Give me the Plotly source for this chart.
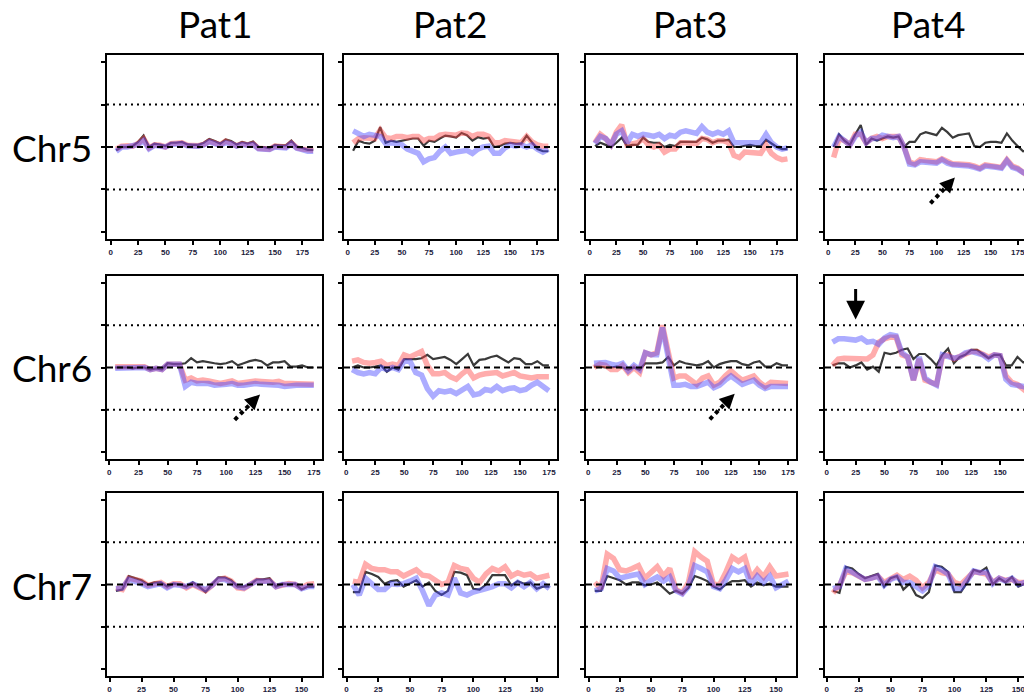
import plotly.graph_objects as go

# ---------------- data ----------------
PATIENTS = ["Pat1", "Pat2", "Pat3", "Pat4"]
CHROMS = ["Chr5", "Chr6", "Chr7"]
X_TICKS = [0, 25, 50, 75, 100, 125, 150, 175]
Y_TICKS = [-2, -1, 0, 1, 2]

X_CHR5 = [5, 10, 15, 20, 25, 30, 35, 40, 45, 50, 55, 60, 65, 70, 75, 80, 85, 90, 95,
          100, 105, 110, 115, 120, 125, 130, 135, 140, 145, 150, 155, 160, 165, 170,
          175, 180, 185]
X_CHR6 = [5, 10, 15, 20, 25, 30, 35, 40, 45, 50, 55, 60, 65, 70, 75, 80, 85, 90, 95,
          100, 105, 110, 115, 120, 125, 130, 135, 140, 145, 150, 155, 160, 165, 170, 175]
X_CHR7 = [5, 10, 15, 20, 25, 30, 35, 40, 45, 50, 55, 60, 65, 70, 75, 80, 85, 90, 95,
          100, 105, 110, 115, 120, 125, 130, 135, 140, 145, 150, 155, 160]

# Chr5
CHR5_PAT1_REF = [-0.08, 0.0, 0.0, 0.02, 0.12, 0.27, 0.0, 0.08, 0.06, 0.02, 0.1, 0.1, 0.12, 0.06, 0.05, 0.05, 0.1, 0.19, 0.14, 0.08, 0.18, 0.14, 0.06, 0.12, 0.08, 0.13, 0.0, 0.0, -0.03, 0.05, 0.04, 0.04, 0.15, 0.0, -0.02, -0.07, -0.07]
CHR5_PAT1_RED = [-0.05, 0.02, 0.03, 0.02, 0.08, 0.2, -0.02, 0.05, 0.04, 0.0, 0.08, 0.08, 0.1, 0.04, 0.02, 0.03, 0.06, 0.14, 0.1, 0.05, 0.14, 0.1, 0.03, 0.08, 0.05, 0.08, -0.03, -0.04, -0.05, 0.02, 0.0, 0.0, 0.1, -0.02, -0.05, -0.08, -0.08]
CHR5_PAT1_BLUE = [-0.1, 0.0, 0.0, 0.02, 0.06, 0.15, -0.04, 0.04, 0.03, 0.0, 0.06, 0.06, 0.08, 0.03, 0.02, 0.02, 0.05, 0.12, 0.08, 0.04, 0.1, 0.08, 0.02, 0.06, 0.04, 0.06, -0.04, -0.05, -0.06, 0.0, -0.02, -0.02, 0.08, -0.03, -0.06, -0.1, -0.1]

CHR5_PAT2_REF = [-0.09, 0.15, 0.1, 0.08, 0.15, 0.47, 0.1, 0.15, 0.12, 0.15, 0.18, 0.2, 0.2, 0.03, 0.15, 0.12, 0.2, 0.27, 0.25, 0.22, 0.33, 0.28, 0.15, 0.23, 0.2, 0.22, 0.0, 0.02, 0.08, 0.1, 0.08, 0.08, 0.27, 0.1, -0.05, -0.1, -0.1]
CHR5_PAT2_RED = [0.1, 0.2, 0.22, 0.2, 0.2, 0.4, 0.22, 0.2, 0.25, 0.25, 0.22, 0.25, 0.25, 0.15, 0.2, 0.2, 0.28, 0.3, 0.3, 0.28, 0.33, 0.32, 0.25, 0.3, 0.3, 0.25, 0.1, 0.1, 0.15, 0.15, 0.12, 0.1, 0.25, 0.12, 0.05, 0.02, 0.02]
CHR5_PAT2_BLUE = [0.38, 0.3, 0.25, 0.3, 0.28, 0.25, 0.08, 0.1, 0.08, 0.05, -0.05, -0.1, -0.15, -0.35, -0.28, -0.25, -0.1, 0.0, -0.15, -0.12, -0.1, -0.08, -0.15, -0.05, 0.0, 0.02, -0.15, -0.15, -0.02, 0.05, 0.02, 0.05, 0.0, 0.05, -0.05, -0.12, -0.05]

CHR5_PAT3_REF = [0.02, 0.1, 0.05, 0.0, 0.1, 0.22, 0.02, 0.05, 0.05, 0.22, 0.12, 0.1, 0.1, 0.0, 0.05, 0.02, 0.12, 0.12, 0.12, 0.12, 0.22, 0.18, 0.1, 0.15, 0.15, 0.17, 0.0, 0.0, 0.03, 0.05, 0.02, 0.02, 0.17, 0.08, 0.0, -0.05, -0.05]
CHR5_PAT3_RED = [0.1, 0.3, 0.2, 0.05, 0.35, 0.52, 0.05, 0.08, 0.1, 0.2, 0.05, 0.0, 0.05, -0.12, -0.05, -0.05, 0.1, 0.1, 0.1, 0.08, 0.2, 0.18, 0.1, 0.15, 0.15, 0.1, -0.2, -0.25, -0.12, -0.12, -0.12, -0.15, 0.05, -0.15, -0.25, -0.3, -0.28]
CHR5_PAT3_BLUE = [0.08, 0.25, 0.2, 0.05, 0.3, 0.38, 0.1, 0.3, 0.25, 0.3, 0.28, 0.25, 0.3, 0.2, 0.28, 0.25, 0.35, 0.38, 0.35, 0.32, 0.48, 0.35, 0.3, 0.35, 0.3, 0.38, 0.1, 0.1, 0.12, 0.12, 0.1, 0.1, 0.3, 0.1, 0.0, -0.05, -0.02]

CHR5_PAT4_REF = [0.0, 0.3, 0.15, 0.05, 0.3, 0.52, 0.05, 0.2, 0.15, 0.2, 0.25, 0.22, 0.25, 0.0, 0.12, 0.12, 0.3, 0.35, 0.32, 0.28, 0.45, 0.35, 0.22, 0.28, 0.3, 0.32, 0.02, 0.0, 0.1, 0.12, 0.12, 0.1, 0.32, 0.15, 0.02, -0.1, -0.08]
CHR5_PAT4_RED = [-0.25, 0.2, 0.15, 0.05, 0.3, 0.3, 0.1, 0.2, 0.25, 0.2, 0.25, 0.25, 0.25, 0.0, -0.35, -0.4, -0.3, -0.32, -0.35, -0.35, -0.28, -0.35, -0.4, -0.4, -0.4, -0.42, -0.45, -0.5, -0.42, -0.45, -0.45, -0.48, -0.3, -0.45, -0.5, -0.6, -0.7]
CHR5_PAT4_BLUE = [0.0, 0.25, 0.15, 0.05, 0.25, 0.35, 0.1, 0.2, 0.2, 0.28, 0.25, 0.22, 0.25, 0.0, -0.4, -0.42, -0.35, -0.35, -0.38, -0.38, -0.3, -0.38, -0.42, -0.42, -0.42, -0.45, -0.48, -0.52, -0.45, -0.48, -0.48, -0.5, -0.32, -0.48, -0.52, -0.6, -0.65]

# Chr6
CHR6_PAT1_REF = [0.0, 0.0, 0.0, -0.02, 0.0, 0.0, -0.05, -0.02, -0.05, 0.1, 0.08, 0.08, 0.1, 0.22, 0.12, 0.15, 0.12, 0.1, 0.08, 0.1, 0.15, 0.05, 0.1, 0.15, 0.18, 0.15, 0.05, 0.12, 0.12, 0.15, 0.02, 0.02, 0.05, 0.0, 0.0]
CHR6_PAT1_RED = [0.02, 0.02, 0.0, 0.0, 0.02, 0.02, -0.05, -0.02, -0.05, 0.08, 0.08, 0.08, -0.3, -0.25, -0.32, -0.3, -0.32, -0.35, -0.38, -0.35, -0.32, -0.38, -0.35, -0.35, -0.32, -0.33, -0.35, -0.35, -0.33, -0.38, -0.38, -0.38, -0.38, -0.4, -0.4]
CHR6_PAT1_BLUE = [-0.02, -0.02, -0.02, -0.02, 0.0, 0.0, -0.05, -0.02, -0.05, 0.08, 0.08, 0.08, -0.45, -0.35, -0.38, -0.38, -0.38, -0.42, -0.42, -0.4, -0.38, -0.42, -0.42, -0.4, -0.38, -0.4, -0.4, -0.4, -0.42, -0.45, -0.42, -0.42, -0.42, -0.42, -0.42]

CHR6_PAT2_REF = [0.0, 0.05, 0.0, 0.0, 0.02, 0.05, -0.1, 0.0, -0.05, 0.2, 0.2, 0.2, 0.22, 0.3, 0.2, 0.22, 0.25, 0.18, 0.08, 0.2, 0.32, 0.05, 0.18, 0.2, 0.25, 0.28, 0.2, 0.12, 0.22, 0.2, 0.08, 0.08, 0.15, 0.05, 0.05]
CHR6_PAT2_RED = [0.15, 0.18, 0.12, 0.1, 0.12, 0.15, 0.05, 0.08, 0.05, 0.3, 0.25, 0.3, 0.38, 0.05, -0.15, -0.15, -0.12, -0.22, -0.28, -0.15, -0.05, -0.25, -0.18, -0.15, -0.12, -0.12, -0.2, -0.15, -0.12, -0.2, -0.22, -0.25, -0.22, -0.22, -0.22]
CHR6_PAT2_BLUE = [-0.05, -0.12, -0.15, -0.12, -0.15, 0.0, -0.05, 0.0, -0.05, 0.15, 0.15, -0.12, -0.18, -0.5, -0.68, -0.55, -0.58, -0.55, -0.62, -0.55, -0.45, -0.65, -0.62, -0.52, -0.55, -0.45, -0.55, -0.5, -0.48, -0.55, -0.52, -0.42, -0.35, -0.45, -0.55]

CHR6_PAT3_REF = [0.02, 0.02, 0.0, 0.0, 0.02, 0.0, -0.05, 0.0, -0.05, 0.1, 0.1, 0.1, 0.12, 0.25, 0.05, 0.15, 0.1, 0.08, 0.05, 0.08, 0.15, 0.0, 0.08, 0.12, 0.15, 0.15, 0.08, 0.05, 0.12, 0.15, 0.02, 0.02, 0.1, 0.05, 0.05]
CHR6_PAT3_RED = [0.0, 0.08, 0.05, -0.05, -0.05, 0.05, -0.12, 0.0, -0.12, 0.35, 0.3, 0.35, 1.0, 0.3, -0.25, -0.2, -0.2, -0.3, -0.4, -0.25, -0.2, -0.42, -0.35, -0.2, -0.08, -0.2, -0.3, -0.25, -0.2, -0.35, -0.45, -0.35, -0.35, -0.38, -0.38]
CHR6_PAT3_BLUE = [0.1, 0.1, 0.12, 0.08, 0.05, 0.1, -0.08, 0.05, -0.05, 0.35, 0.3, 0.3, 0.95, 0.25, -0.42, -0.42, -0.4, -0.45, -0.45, -0.4, -0.35, -0.48, -0.42, -0.3, -0.2, -0.3, -0.4, -0.35, -0.3, -0.42, -0.5, -0.45, -0.45, -0.45, -0.45]

CHR6_PAT4_REF = [0.05, 0.1, 0.1, 0.0, 0.05, 0.12, -0.05, 0.02, -0.1, 0.35, 0.32, 0.35, 0.42, 0.45, 0.2, 0.32, 0.32, 0.2, 0.05, 0.3, 0.45, 0.1, 0.25, 0.3, 0.42, 0.42, 0.32, 0.22, 0.3, 0.3, 0.05, 0.05, 0.25, 0.12, 0.2]
CHR6_PAT4_RED = [0.05, 0.2, 0.22, 0.22, 0.22, 0.22, 0.2, 0.3, 0.6, 0.68, 0.72, 0.72, 0.3, 0.25, -0.3, 0.2, -0.3, -0.35, -0.4, 0.25, 0.3, 0.2, 0.25, 0.3, 0.38, 0.38, 0.3, 0.25, 0.3, 0.28, -0.2, -0.35, -0.4, -0.5, -0.62]
CHR6_PAT4_BLUE = [0.6, 0.68, 0.68, 0.65, 0.65, 0.7, 0.6, 0.62, 0.55, 0.7, 0.78, 0.75, 0.35, 0.25, -0.3, 0.25, -0.25, -0.35, -0.42, 0.3, 0.25, 0.22, 0.25, 0.35, 0.38, 0.35, 0.3, 0.2, 0.3, 0.28, -0.28, -0.4, -0.42, -0.45, -0.5]

# Chr7
CHR7_PAT1_REF = [-0.15, -0.12, 0.2, 0.15, 0.1, 0.0, 0.05, 0.05, -0.05, 0.02, 0.0, -0.05, 0.05, -0.05, -0.18, 0.0, 0.17, 0.17, 0.1, -0.05, -0.05, 0.0, 0.12, 0.12, 0.15, -0.05, 0.02, 0.0, 0.02, -0.12, -0.05, -0.05]
CHR7_PAT1_RED = [-0.08, -0.12, 0.15, 0.1, 0.08, -0.02, 0.02, 0.05, -0.05, 0.02, 0.02, -0.08, 0.0, -0.08, -0.15, -0.02, 0.12, 0.15, 0.08, -0.08, -0.1, 0.0, 0.1, 0.08, 0.1, -0.05, 0.0, 0.02, 0.0, -0.08, 0.0, 0.02]
CHR7_PAT1_BLUE = [-0.1, -0.08, 0.12, 0.08, 0.02, -0.05, 0.0, 0.02, -0.08, 0.0, -0.02, -0.05, 0.02, -0.05, -0.12, -0.02, 0.12, 0.12, 0.05, -0.05, -0.08, 0.0, 0.08, 0.08, 0.08, -0.05, 0.0, 0.0, 0.0, -0.1, -0.05, -0.05]

CHR7_PAT2_REF = [-0.18, -0.18, 0.3, 0.25, 0.18, 0.02, 0.08, 0.1, -0.05, 0.02, 0.1, -0.05, 0.05, -0.15, -0.25, -0.15, 0.3, 0.28, 0.22, -0.1, -0.12, 0.0, 0.22, 0.22, 0.22, -0.02, 0.08, 0.02, 0.05, -0.1, -0.05, -0.05]
CHR7_PAT2_RED = [0.08, 0.05, 0.48, 0.38, 0.35, 0.35, 0.3, 0.3, 0.2, 0.28, 0.35, 0.22, 0.2, 0.1, 0.0, 0.05, 0.45, 0.38, 0.35, 0.15, 0.05, 0.25, 0.38, 0.32, 0.42, 0.2, 0.28, 0.22, 0.25, 0.15, 0.2, 0.22]
CHR7_PAT2_BLUE = [0.0, -0.25, 0.15, 0.0, -0.12, -0.12, 0.02, 0.0, 0.02, 0.08, 0.15, -0.15, -0.5, -0.25, -0.2, -0.25, 0.15, -0.2, -0.25, -0.18, -0.15, -0.1, -0.05, 0.02, 0.02, -0.08, 0.05, -0.05, 0.05, -0.1, 0.02, -0.1]

CHR7_PAT3_REF = [-0.15, -0.15, 0.2, 0.15, 0.1, 0.0, 0.05, 0.05, -0.02, 0.0, 0.05, -0.08, -0.22, -0.15, -0.22, -0.08, 0.2, 0.15, 0.08, -0.05, -0.12, 0.0, 0.08, 0.08, 0.1, -0.05, 0.05, -0.02, 0.02, -0.05, -0.05, -0.05]
CHR7_PAT3_RED = [0.05, -0.1, 0.72, 0.62, 0.35, 0.32, 0.38, 0.45, 0.15, 0.3, 0.42, 0.2, 0.38, -0.12, -0.2, 0.05, 0.78, 0.65, 0.55, 0.0, 0.0, 0.3, 0.65, 0.55, 0.65, 0.15, 0.35, 0.18, 0.42, 0.2, 0.22, 0.25]
CHR7_PAT3_BLUE = [-0.15, -0.1, 0.38, 0.32, 0.15, 0.2, 0.22, 0.25, 0.0, 0.1, 0.18, 0.08, 0.18, -0.15, -0.22, -0.05, 0.45, 0.38, 0.3, -0.05, -0.1, 0.12, 0.38, 0.3, 0.38, 0.0, 0.2, 0.05, 0.2, -0.08, 0.0, 0.08]

CHR7_PAT4_REF = [-0.15, -0.2, 0.42, 0.38, 0.25, 0.15, 0.2, 0.25, -0.05, 0.15, 0.2, -0.12, 0.02, -0.25, -0.32, -0.18, 0.45, 0.42, 0.3, -0.18, -0.18, 0.05, 0.35, 0.3, 0.4, 0.0, 0.15, 0.05, 0.18, -0.05, 0.02, 0.02]
CHR7_PAT4_RED = [-0.2, -0.02, 0.3, 0.28, 0.2, 0.12, 0.15, 0.2, 0.05, 0.15, 0.22, 0.12, 0.2, 0.1, -0.08, 0.05, 0.35, 0.28, 0.25, 0.05, 0.0, 0.15, 0.3, 0.28, 0.25, 0.05, 0.15, 0.1, 0.12, 0.05, 0.05, -0.15]
CHR7_PAT4_BLUE = [-0.1, -0.05, 0.38, 0.3, 0.2, 0.12, 0.15, 0.2, -0.02, 0.12, 0.18, 0.05, 0.05, -0.05, -0.15, -0.02, 0.42, 0.35, 0.25, -0.1, -0.1, 0.1, 0.32, 0.28, 0.3, 0.02, 0.15, 0.08, 0.15, 0.0, 0.05, 0.0]

PANELS = [
    [(CHR5_PAT1_REF, CHR5_PAT1_RED, CHR5_PAT1_BLUE), (CHR5_PAT2_REF, CHR5_PAT2_RED, CHR5_PAT2_BLUE),
     (CHR5_PAT3_REF, CHR5_PAT3_RED, CHR5_PAT3_BLUE), (CHR5_PAT4_REF, CHR5_PAT4_RED, CHR5_PAT4_BLUE)],
    [(CHR6_PAT1_REF, CHR6_PAT1_RED, CHR6_PAT1_BLUE), (CHR6_PAT2_REF, CHR6_PAT2_RED, CHR6_PAT2_BLUE),
     (CHR6_PAT3_REF, CHR6_PAT3_RED, CHR6_PAT3_BLUE), (CHR6_PAT4_REF, CHR6_PAT4_RED, CHR6_PAT4_BLUE)],
    [(CHR7_PAT1_REF, CHR7_PAT1_RED, CHR7_PAT1_BLUE), (CHR7_PAT2_REF, CHR7_PAT2_RED, CHR7_PAT2_BLUE),
     (CHR7_PAT3_REF, CHR7_PAT3_RED, CHR7_PAT3_BLUE), (CHR7_PAT4_REF, CHR7_PAT4_RED, CHR7_PAT4_BLUE)],
]
ROW_X = [X_CHR5, X_CHR6, X_CHR7]

# ---------------- layout geometry (window pixel coordinates) ----------------
OFF = 8                      # default page margin around the plot div
W, H = 1032 - OFF, 695 - OFF  # figure size so it ends exactly at the window edge
COL_PX = [(107, 322), (344, 557), (586, 796), (825, 1032)]
ROW_PX = [(55, 239), (276, 459), (493, 676)]
X_RANGES = [([-3.4, 193.0], [-3.0, 188.2]),
            ([-2.0, 182.0], [-1.5, 177.6]),
            ([-2.0, 166.0], [-1.3, 160.7])]
Y_RANGE = [-2.17, 2.17]


def px_x(p):
    return (p - OFF) / W


def px_y(p):
    return 1 - (p - OFF) / H


REF_COLOR = "#3a3a3a"
RED_COLOR = "rgba(255,70,70,0.45)"
BLUE_COLOR = "rgba(70,70,255,0.45)"
TITLE_FONT = dict(family="Lato, Noto Sans, sans-serif", size=37, color="black")


def ax_id(k):
    return "" if k == 1 else str(k)


fig = go.Figure()
shapes = []
annotations = []

for r in range(3):
    for c in range(4):
        k = r * 4 + c + 1
        xs = ROW_X[r]
        ref, red, blue = PANELS[r][c]
        xname, yname = "x" + ax_id(k), "y" + ax_id(k)
        fig.add_trace(go.Scatter(x=xs, y=ref, mode="lines", xaxis=xname, yaxis=yname,
                                 line=dict(color=REF_COLOR, width=2.2), showlegend=False,
                                 hoverinfo="skip"))
        fig.add_trace(go.Scatter(x=xs, y=red, mode="lines", xaxis=xname, yaxis=yname,
                                 line=dict(color=RED_COLOR, width=5.5), showlegend=False,
                                 hoverinfo="skip"))
        fig.add_trace(go.Scatter(x=xs, y=blue, mode="lines", xaxis=xname, yaxis=yname,
                                 line=dict(color=BLUE_COLOR, width=5.5), showlegend=False,
                                 hoverinfo="skip"))
        xr = X_RANGES[r][1] if c == 3 else X_RANGES[r][0]
        fig.layout["xaxis" + ax_id(k)] = dict(
            domain=[px_x(COL_PX[c][0]), min(1.0, px_x(COL_PX[c][1]))], range=xr, anchor=yname,
            tickvals=X_TICKS, ticks="outside", ticklen=4, tickwidth=1.5, tickcolor="black",
            showline=True, linecolor="black", linewidth=2, mirror=True,
            showgrid=False, zeroline=False, fixedrange=True,
            tickfont=dict(family="Arial", size=8, color="#1c1c3c", weight="bold"))
        fig.layout["yaxis" + ax_id(k)] = dict(
            domain=[px_y(ROW_PX[r][1]), px_y(ROW_PX[r][0])], range=Y_RANGE, anchor=xname,
            tickvals=Y_TICKS, ticks="outside", ticklen=4, tickwidth=2, tickcolor="black",
            showticklabels=False, showline=True, linecolor="black", linewidth=2,
            mirror=(c < 3), showgrid=False, zeroline=False, fixedrange=True)
        # reference lines
        shapes.append(dict(type="line", xref=xname + " domain", yref=yname, x0=0, x1=1,
                           y0=0, y1=0, line=dict(color="black", width=2, dash="6px,4px")))
        for yv in (1, -1):
            shapes.append(dict(type="line", xref=xname + " domain", yref=yname, x0=0, x1=1,
                               y0=yv, y1=yv, line=dict(color="black", width=2, dash="2px,4px")))

# dotted arrows (tail, dotted end, tip) in data coords of panel k
DOTTED_ARROWS = [
    (4, (94.4, -1.33), (111.5, -0.87), (117.0, -0.72)),
    (5, (107.3, -1.24), (123.8, -0.78), (129.0, -0.64)),
    (7, (106.5, -1.23), (123.1, -0.76), (128.3, -0.62)),
]
for k, tail, mid, tip in DOTTED_ARROWS:
    xname, yname = "x" + ax_id(k), "y" + ax_id(k)
    shapes.append(dict(type="line", xref=xname, yref=yname, x0=tail[0], y0=tail[1],
                       x1=mid[0], y1=mid[1], line=dict(color="black", width=4, dash="4px,4px")))
    annotations.append(dict(xref=xname, yref=yname, axref=xname, ayref=yname,
                            x=tip[0], y=tip[1], ax=mid[0], ay=mid[1], text="",
                            showarrow=True, arrowhead=2, arrowsize=1.2, arrowwidth=2.5,
                            arrowcolor="black"))

# solid down arrow in Chr6/Pat4
annotations.append(dict(xref="x8", yref="y8", axref="x8", ayref="y8",
                        x=25, y=1.14, ax=25, ay=1.9, text="", showarrow=True,
                        arrowhead=2, arrowsize=1.25, arrowwidth=3, arrowcolor="black"))

# column titles and row labels
TITLE_X = [215, 450, 690, 928]
for c, name in enumerate(PATIENTS):
    annotations.append(dict(xref="paper", yref="paper", x=px_x(TITLE_X[c]), y=px_y(24),
                            text=name, showarrow=False, xanchor="center", yanchor="middle",
                            font=TITLE_FONT))
ROW_LABEL_Y = [147, 367, 585]
for r, name in enumerate(CHROMS):
    annotations.append(dict(xref="paper", yref="paper", x=px_x(52), y=px_y(ROW_LABEL_Y[r]),
                            text=name, showarrow=False, xanchor="center", yanchor="middle",
                            font=TITLE_FONT))

fig.update_layout(width=W, height=H, margin=dict(l=0, r=0, t=0, b=0),
                  paper_bgcolor="white", plot_bgcolor="white",
                  shapes=shapes, annotations=annotations, showlegend=False)

fig.write_html("out.html")
